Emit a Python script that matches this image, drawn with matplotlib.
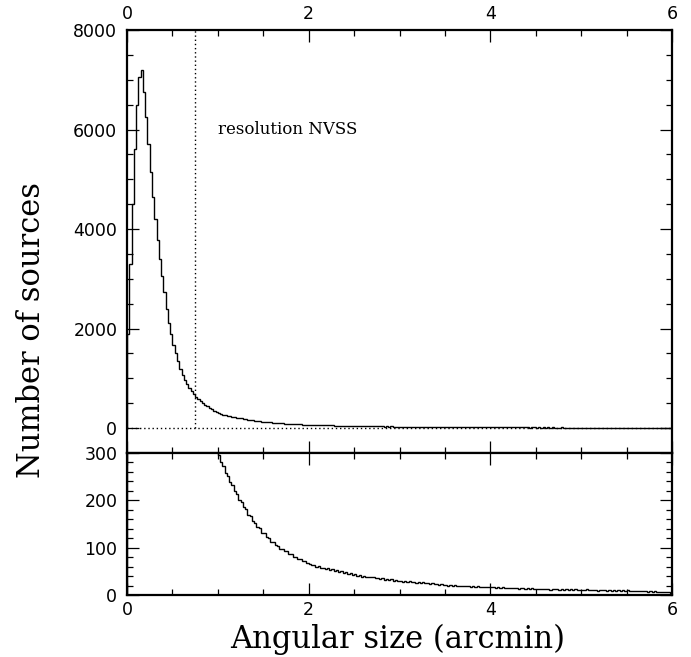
import matplotlib
matplotlib.use("Agg")
import matplotlib.pyplot as plt
from matplotlib.ticker import MultipleLocator
import numpy as np

# ── Data: source counts per 0.025 arcmin bin, 0-6 arcmin ──────────────────────
counts = [
    1900, 3300, 4500, 5600, 6500, 7050, 7200, 6750, 6250, 5700,
    5150, 4650, 4200, 3780, 3400, 3050, 2740, 2400, 2120, 1900,
    1680, 1500, 1340, 1180, 1060, 960, 880, 800, 740, 680,
    630, 585, 540, 500, 465, 435, 405, 378, 352, 322,
    296, 281, 272, 257, 251, 238, 232, 219, 213, 201,
    196, 185, 181, 170, 167, 157, 153, 144, 141, 132,
    130, 122, 120, 113, 112, 105, 104, 98, 97, 92,
    92, 87, 86, 80, 80, 76, 75, 71, 71, 67,
    66, 63, 64, 60, 61, 57, 58, 55, 56, 53,
    54, 51, 52, 49, 50, 47, 48, 45, 46, 43,
    44, 41, 43, 39, 41, 38, 39, 37, 38, 35,
    36, 34, 35, 32, 34, 31, 33, 30, 31, 30,
    30, 28, 30, 28, 29, 27, 28, 26, 27, 25,
    27, 25, 26, 24, 25, 23, 24, 22, 23, 21,
    22, 20, 22, 19, 21, 19, 20, 18, 19, 18,
    19, 17, 18, 17, 18, 16, 17, 16, 17, 16,
    16, 17, 15, 16, 15, 16, 14, 15, 14, 15,
    14, 15, 13, 14, 14, 13, 14, 12, 14, 13,
    12, 13, 12, 13, 12, 13, 11, 13, 12, 12,
    11, 13, 11, 12, 11, 12, 11, 12, 10, 11,
    11, 10, 12, 10, 11, 10, 11, 9, 11, 10,
    10, 9, 11, 9, 10, 9, 10, 9, 10, 8,
    10, 9, 9, 8, 9, 8, 9, 8, 8, 7,
    8, 7, 8, 6, 7, 6, 7, 6, 6, 5,
]
x_range = (0.0, 6.0)
nvss_resolution = 0.75   # arcmin
label_text = "resolution NVSS"

edges = np.linspace(x_range[0], x_range[1], len(counts) + 1)

# ── Style ──────────────────────────────────────────────────────────────────────
plt.rcParams.update({
    "font.family": "DejaVu Sans",
    "font.size": 12.5,
    "axes.linewidth": 1.6,
    "xtick.direction": "in",
    "ytick.direction": "in",
    "xtick.major.size": 8.5,
    "ytick.major.size": 8.5,
    "xtick.minor.size": 4.0,
    "ytick.minor.size": 4.0,
    "xtick.major.width": 0.9,
    "ytick.major.width": 0.9,
    "xtick.minor.width": 0.9,
    "ytick.minor.width": 0.9,
})

fig = plt.figure(figsize=(6.91, 6.57), dpi=100)
ax_top = fig.add_axes([0.1838, 0.3105, 0.7887, 0.6438])
ax_bot = fig.add_axes([0.1838, 0.0944, 0.7887, 0.2161])

dotted = (0, (1, 2))

# top panel
ax_top.stairs(counts, edges, color="k", lw=1.0)
ax_top.plot(x_range, [0, 0], color="k", lw=1.0, ls=dotted)
ax_top.plot([nvss_resolution, nvss_resolution], [0, 8000], color="k", lw=1.0, ls=dotted)
ax_top.text(1.0, 6000, label_text, family="DejaVu Serif", fontsize=12,
            ha="left", va="center")
ax_top.set_xlim(*x_range)
ax_top.set_ylim(-500, 8000)
ax_top.xaxis.set_major_locator(MultipleLocator(2))
ax_top.xaxis.set_minor_locator(MultipleLocator(0.5))
ax_top.yaxis.set_major_locator(MultipleLocator(2000))
ax_top.yaxis.set_minor_locator(MultipleLocator(500))
ax_top.tick_params(which="both", top=True, bottom=True, left=True, right=True,
                   labeltop=True, labelbottom=False)
ax_top.tick_params(axis="x", pad=5)
ax_top.tick_params(axis="y", pad=7)

# bottom panel (zoom on the tail)
ax_bot.stairs(counts, edges, color="k", lw=1.0)
ax_bot.set_xlim(*x_range)
ax_bot.set_ylim(0, 300)
ax_bot.xaxis.set_major_locator(MultipleLocator(2))
ax_bot.xaxis.set_minor_locator(MultipleLocator(0.5))
ax_bot.yaxis.set_major_locator(MultipleLocator(100))
ax_bot.yaxis.set_minor_locator(MultipleLocator(20))
ax_bot.tick_params(which="both", top=True, bottom=True, left=True, right=True)
ax_bot.tick_params(axis="x", pad=4)
ax_bot.tick_params(axis="y", pad=7)

fig.text(0.046, 0.497, "Number of sources", family="DejaVu Serif", fontsize=22,
         rotation=90, ha="center", va="center")
fig.text(0.575, 0.027, "Angular size (arcmin)", family="DejaVu Serif", fontsize=22,
         ha="center", va="center")

fig.savefig("out.png", dpi=100)
